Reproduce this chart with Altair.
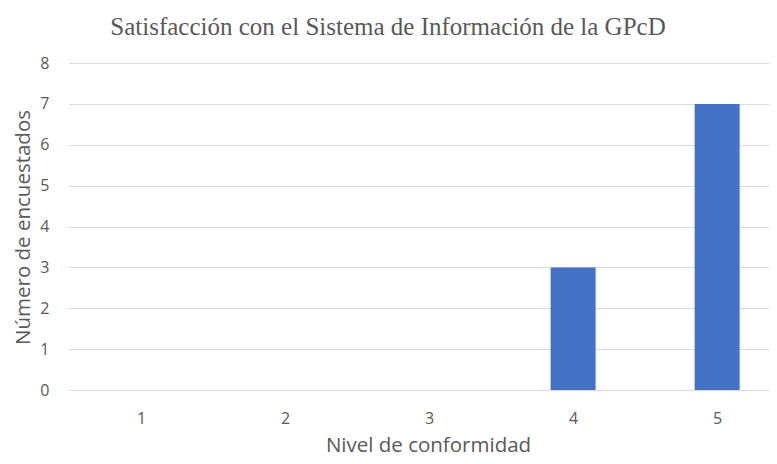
import altair as alt
import pandas as pd

niveles = [1, 2, 3, 4, 5]
encuestados = [0, 0, 0, 3, 7]
y_ticks = [0, 1, 2, 3, 4, 5, 6, 7, 8]

df = pd.DataFrame({"nivel": niveles, "n": encuestados})

gray = "#595959"
sans = "Open Sans"

chart = alt.Chart(df).mark_bar(size=45, color="#4472C4").encode(
    x=alt.X("nivel:Q",
            scale=alt.Scale(domain=[0.5, 5.36], nice=False, zero=False, padding=0),
            axis=alt.Axis(values=niveles, grid=False, ticks=False, domain=False,
                          labelFont=sans, labelFontSize=16, labelColor=gray,
                          labelPadding=20, format="d",
                          title="Nivel de conformidad", titleFont=sans,
                          titleFontSize=20.5, titleFontWeight="normal", titleColor=gray,
                          titleBaseline="alphabetic", titleX=359, titleY=61)),
    y=alt.Y("n:Q",
            scale=alt.Scale(domain=[0, 8], nice=False),
            axis=alt.Axis(values=y_ticks, grid=True, gridColor="#d9d9d9", gridWidth=1,
                          ticks=False, domain=False,
                          labelFont=sans, labelFontSize=16, labelColor=gray,
                          labelPadding=20,
                          title="Número de encuestados", titleFont=sans,
                          titleFontSize=20.5, titleFontWeight="normal", titleColor=gray,
                          titleBaseline="alphabetic", titleX=-40, titleY=164)),
).properties(
    width=700,
    height=327,
    title=alt.TitleParams("Satisfacción con el Sistema de Información de la GPcD",
                          font="Liberation Serif", fontSize=25, fontWeight="normal",
                          color=gray, anchor="middle", dx=-31, offset=15),
    autosize=alt.AutoSizeParams(type="none"),
    padding={"left": 61, "top": 55, "right": 0, "bottom": 66},
).configure_view(stroke=None)

chart.save("out.html", embed_options={"renderer": "svg", "actions": False})
